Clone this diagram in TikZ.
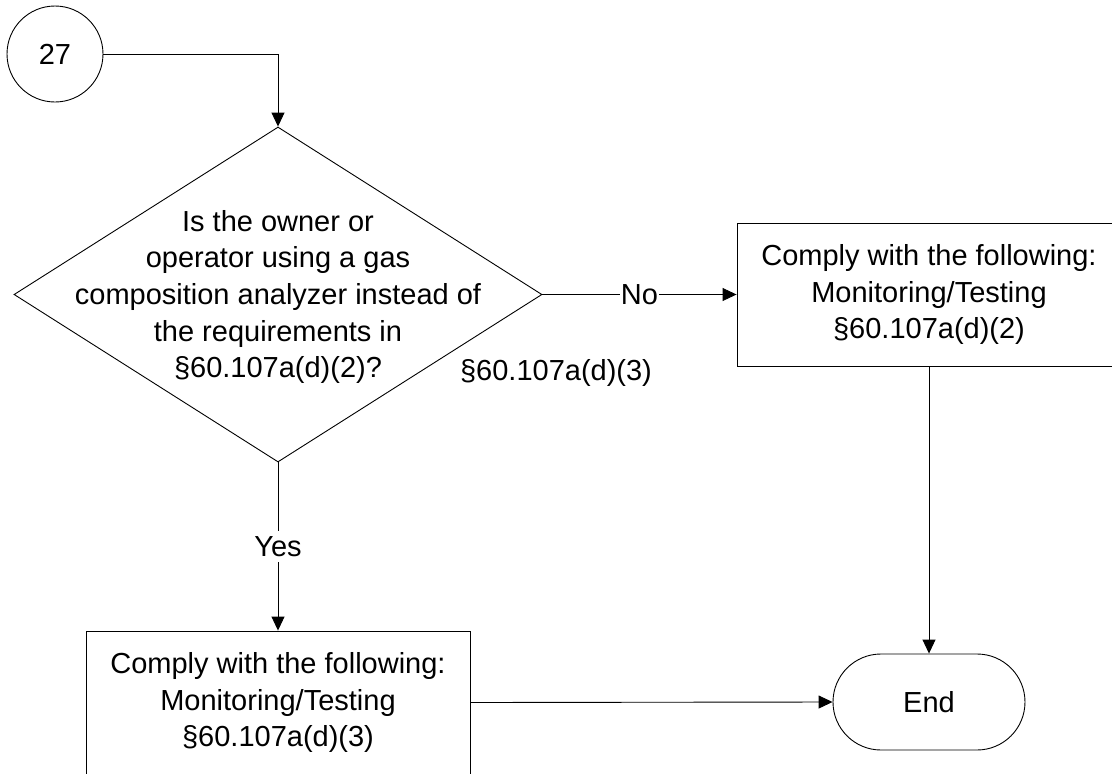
\documentclass[tikz,border=0pt]{standalone}
\usepackage{fontspec}
\setmainfont{Liberation Sans}
\usetikzlibrary{shapes.geometric,shapes.misc,arrows.meta}

\begin{document}
\begin{tikzpicture}[x=1pt, y=-1pt, line width=0.9pt,
  txt/.style={font=\fontsize{29}{36.7}\selectfont, align=center, inner sep=0pt},
  box/.style={draw, txt, minimum width=384pt, minimum height=143pt},
  lbl/.style={txt, fill=white, inner xsep=0.5pt, inner ysep=5pt},
  arr/.style={-{Triangle[length=14pt,width=13pt]}}]
  \useasboundingbox (0,0) rectangle (1112,774);
  \clip (0,0) rectangle (1112,774);
  \node[draw, circle, txt, minimum size=96pt] (start) at (55,54) {27};
  \node[draw, diamond, inner sep=0pt, minimum width=528pt, minimum height=335pt] (q) at (278,294.5) {};
  \node[txt] (qtext) at (278,297) {Is the owner or\\operator using a gas\\composition analyzer instead of\\the requirements in\\§60.107a(d)(2)?};
  \node[box] (no) at (929,294.5) {Comply with the following:\\Monitoring/Testing\\§60.107a(d)(2)};
  \node[box] (yes) at (278,702.5) {Comply with the following:\\Monitoring/Testing\\§60.107a(d)(3)};
  \node[draw, rounded rectangle, txt, minimum width=192pt, minimum height=96pt] (end) at (929,702) {End};
  \node[txt] (ref) at (556,373) {§60.107a(d)(3)};
  \draw[arr] (start.east) -| (q.north);
  \draw[arr] (q.east) -- node[lbl] {No} (no.west);
  \draw[arr] (q.south) -- node[lbl] {Yes} (yes.north);
  \draw[arr] (no.south) -- (end.north);
  \draw[arr] (yes.east) -- (end.west);
\end{tikzpicture}
\end{document}
